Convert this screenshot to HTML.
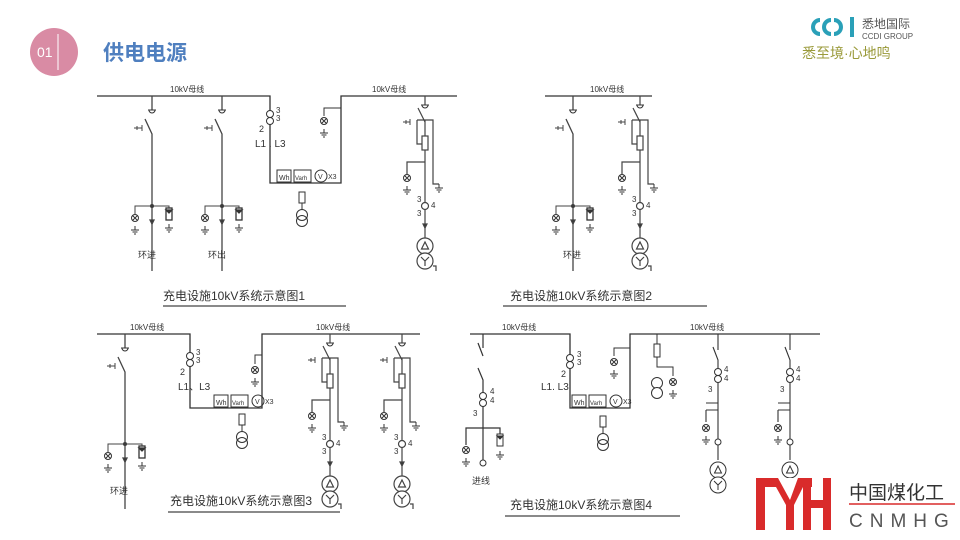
<!DOCTYPE html>
<html><head><meta charset="utf-8"><style>
html,body{margin:0;padding:0;background:#fff;}
body{width:960px;height:540px;overflow:hidden;position:relative;font-family:"Liberation Sans","Noto Sans CJK SC",sans-serif;}
svg{position:absolute;left:0;top:0}
</style></head><body>
<svg width="960" height="540" viewBox="0 0 960 540" xmlns="http://www.w3.org/2000/svg" font-family="Liberation Sans, Noto Sans CJK SC, sans-serif">
<defs>
<g id="lamp" fill="none" stroke="#333" stroke-width="1"><circle r="3.5" fill="#fff"/><path d="M-2.5,-2.5L2.5,2.5M2.5,-2.5L-2.5,2.5"/></g>
<g id="gnd" stroke="#333" stroke-width="1"><path d="M0,-4V0M-4,0H4M-2.5,2H2.5M-1,4H1"/></g>
<g id="tgnd" stroke="#333" stroke-width="1" fill="none"><path d="M-4,0H4"/><path d="M-3,0A3,3 0 0 0 3,0"/></g>
<g id="arr" stroke="#333" fill="#fff"><rect x="-3" y="0" width="6" height="12"/><path d="M-3,2H3L0,5Z" fill="#333"/></g>
<g id="feedA" stroke="#444" stroke-width="1.3" fill="none">
 <path d="M0,0V14"/><use href="#tgnd" y="14"/>
 <path d="M-7,23L0,38V175" stroke-width="1.3"/>
 <path d="M-18,32H-10M-10,29V35M-15,30V34" stroke-width="1"/>
 <path d="M-17,118V110H17V118" stroke-width="1"/>
 <circle cx="0" cy="110" r="1.5" fill="#333"/>
 <use href="#lamp" x="-17" y="122"/><use href="#gnd" x="-17" y="134"/>
 <use href="#arr" x="17" y="112"/><use href="#gnd" x="17" y="132"/>
 <path d="M-2,124L0,128L2,124Z" fill="#333"/>
</g>
<g id="feedB" stroke="#444" stroke-width="1.2" fill="none">
 <path d="M0,0V9"/><use href="#tgnd" y="9"/>
 <path d="M-7,12L0,26"/>
 <path d="M-22,26H-15M-15,23V29M-19,24V28" stroke-width="1"/>
 <path d="M-8,24H8V76M-8,24V48H0"/>
 <rect x="-3" y="40" width="6" height="14" fill="#fff"/>
 <path d="M0,24V40M0,54V150"/>
 <path d="M-18,78V66H0"/><use href="#lamp" x="-18" y="82"/><use href="#gnd" x="-18" y="94"/>
 <path d="M8,76V88H14"/><use href="#gnd" x="14" y="92"/>
 <circle cx="0" cy="110" r="3.5" fill="#fff"/>
 <text x="-8" y="106" font-size="8" fill="#333" stroke="none">3</text><text x="-8" y="120" font-size="8" fill="#333" stroke="none">3</text><text x="6" y="112" font-size="8" fill="#333" stroke="none">4</text>
 <path d="M-2,128L0,132L2,128Z" fill="#333"/>
 <circle cx="0" cy="150" r="8" fill="#fff"/><path d="M-3.5,153L0,146L3.5,153Z"/>
 <circle cx="0" cy="165" r="8" fill="#fff"/><path d="M0,165V170M0,165L-4,161M0,165L4,161M8,170H11V175"/>
</g>
<g id="meters" stroke="#333" fill="none" stroke-width="1">
 <rect x="0" y="-7" width="14" height="12"/><text x="2" y="3" font-size="7" fill="#333" stroke="none">Wh</text>
 <rect x="17" y="-7" width="17" height="12"/><text x="18" y="3" font-size="6" fill="#333" stroke="none">Varh</text>
 <circle cx="44" cy="-1" r="6"/><text x="41" y="2" font-size="7" fill="#333" stroke="none">V</text>
 <text x="51" y="2" font-size="7" fill="#333" stroke="none">X3</text>
</g>
<g id="ct" stroke="#333" fill="#fff" stroke-width="1">
 <circle cx="0" cy="0" r="3.5"/><circle cx="0" cy="7" r="3.5"/>
</g>
<g id="ptx" stroke="#333" fill="none" stroke-width="1">
 <rect x="-3" y="0" width="6" height="11" fill="#fff"/><path d="M0,11V18"/>
 <circle cx="0" cy="23" r="5.5" fill="#fff"/><circle cx="0" cy="29" r="5.5"/>
</g>
</defs>

<!-- header -->
<circle cx="54" cy="52" r="24" fill="#d98ba4"/>
<line x1="58" y1="34" x2="58" y2="70" stroke="#fff" stroke-width="1"/>
<text x="37" y="57" font-size="14" fill="#fff">01</text>
<text x="103" y="60" font-size="21" font-weight="bold" fill="#4f7fbf">供电电源</text>
<g fill="#2aa0b8"><path d="M820,18a9,9 0 0 0 0,18v-4a5,5 0 0 1 0,-10z"/><path d="M831,18a9,9 0 0 0 0,18v-4a5,5 0 0 1 0,-10z"/><path d="M834,18a9,9 0 0 1 0,18v-4a5,5 0 0 0 0,-10z"/><rect x="850" y="17" width="4" height="20"/></g>
<text x="862" y="28" font-size="12" fill="#555">悉地国际</text>
<text x="862" y="39" font-size="8" fill="#555">CCDI GROUP</text>
<text x="802" y="58" font-size="14" fill="#9a9a3a">悉至境·心地鸣</text>

<!-- Diagram 1 -->
<g stroke="#333" stroke-width="1.3" fill="none">
<path d="M97,96H270V183H341V96H457"/>
</g>
<text x="170" y="92" font-size="8" fill="#333">10kV母线</text>
<text x="372" y="92" font-size="8" fill="#333">10kV母线</text>
<use href="#feedA" x="152" y="96"/><use href="#feedA" x="222" y="96"/>
<text x="138" y="258" font-size="9" fill="#333">环进</text><text x="208" y="258" font-size="9" fill="#333">环出</text>
<use href="#ct" x="270" y="114"/>
<text x="276" y="113" font-size="8" fill="#333">3</text><text x="276" y="121" font-size="8" fill="#333">3</text><text x="259" y="132" font-size="9" fill="#333">2</text>
<text x="255" y="147" font-size="10" fill="#333">L1 . L3</text>
<use href="#meters" x="277" y="177"/>
<use href="#ptx" x="302" y="192"/>
<path d="M341,108H324V116" stroke="#333" fill="none"/><use href="#lamp" x="324" y="121"/><use href="#gnd" x="324" y="133"/>
<use href="#feedB" x="425" y="96"/>
<text x="163" y="300" font-size="12" fill="#333">充电设施10kV系统示意图1</text>
<line x1="163" y1="306" x2="346" y2="306" stroke="#444" stroke-width="1.3"/>

<!-- Diagram 2 -->
<path d="M545,96H652" stroke="#333" stroke-width="1.3"/>
<text x="590" y="92" font-size="8" fill="#333">10kV母线</text>
<use href="#feedA" x="573" y="96"/>
<text x="563" y="258" font-size="9" fill="#333">环进</text>
<use href="#feedB" x="640" y="96"/>
<text x="510" y="300" font-size="12" fill="#333">充电设施10kV系统示意图2</text>
<line x1="503" y1="306" x2="707" y2="306" stroke="#444" stroke-width="1.3"/>

<!-- Diagram 3 -->
<path d="M97,334H190V408H262V334H420" stroke="#333" stroke-width="1.3" fill="none"/>
<text x="130" y="330" font-size="8" fill="#333">10kV母线</text>
<text x="316" y="330" font-size="8" fill="#333">10kV母线</text>
<use href="#feedA" x="125" y="334"/>
<text x="110" y="494" font-size="9" fill="#333">环进</text>
<use href="#ct" x="190" y="356"/>
<text x="196" y="355" font-size="8" fill="#333">3</text><text x="196" y="363" font-size="8" fill="#333">3</text><text x="180" y="375" font-size="9" fill="#333">2</text>
<text x="178" y="390" font-size="10" fill="#333">L1、L3</text>
<use href="#meters" x="214" y="402"/>
<use href="#ptx" x="242" y="414"/>
<path d="M262,355H255V364" stroke="#333" fill="none"/><use href="#lamp" x="255" y="370"/><use href="#gnd" x="255" y="382"/>
<use href="#feedB" x="330" y="334"/><use href="#feedB" x="402" y="334"/>
<text x="170" y="505" font-size="12" fill="#333">充电设施10kV系统示意图3</text>
<line x1="168" y1="512" x2="340" y2="512" stroke="#444" stroke-width="1.3"/>

<!-- Diagram 4 -->
<path d="M470,334H570V408H630V334H820" stroke="#333" stroke-width="1.3" fill="none"/>
<text x="502" y="330" font-size="8" fill="#333">10kV母线</text>
<text x="690" y="330" font-size="8" fill="#333">10kV母线</text>
<g stroke="#333" fill="none" stroke-width="1.2">
<path d="M483,334V348M478,343L483,356M478,368L483,380V460"/>
<path d="M466,445V428H500V434"/>
</g>
<use href="#ct" x="483" y="396"/>
<text x="490" y="394" font-size="8" fill="#333">4</text><text x="490" y="403" font-size="8" fill="#333">4</text><text x="473" y="416" font-size="8" fill="#333">3</text>
<use href="#lamp" x="466" y="450"/><use href="#gnd" x="466" y="462"/>
<use href="#arr" x="500" y="434"/><use href="#gnd" x="500" y="455"/>
<circle cx="483" cy="463" r="3" fill="#fff" stroke="#333"/>
<text x="472" y="484" font-size="9" fill="#333">进线</text>
<use href="#ct" x="570" y="358"/>
<text x="577" y="357" font-size="8" fill="#333">3</text><text x="577" y="365" font-size="8" fill="#333">3</text><text x="561" y="377" font-size="9" fill="#333">2</text>
<text x="541" y="390" font-size="10" fill="#333">L1. L3</text>
<use href="#meters" x="572" y="402"/>
<use href="#ptx" x="603" y="416"/>
<path d="M630,348H614V356" stroke="#333" fill="none"/><use href="#lamp" x="614" y="362"/><use href="#gnd" x="614" y="374"/>
<g stroke="#333" fill="none" stroke-width="1"><path d="M657,334V344M657,357V367H673V376"/><rect x="654" y="344" width="6" height="13" fill="#fff"/>
<circle cx="657" cy="383" r="5.5" fill="#fff"/><circle cx="657" cy="393" r="5.5" fill="#fff"/></g>
<use href="#lamp" x="673" y="382"/><use href="#gnd" x="673" y="394"/>
<g id="f4" stroke="#333" fill="none" stroke-width="1.1">
<path d="M718,334V350M713,347L718,360V400M706,403H718M706,410H718M706,410V422M718,400V460"/>
</g>
<use href="#ct" x="718" y="372"/><use href="#lamp" x="706" y="428"/><use href="#gnd" x="706" y="440"/>
<text x="724" y="372" font-size="8" fill="#333">4</text><text x="724" y="381" font-size="8" fill="#333">4</text><text x="708" y="392" font-size="8" fill="#333">3</text>
<circle cx="718" cy="442" r="3" fill="#fff" stroke="#333"/>
<circle cx="718" cy="470" r="8" fill="#fff" stroke="#333"/><path d="M714.5,473L718,466L721.5,473Z" fill="none" stroke="#333"/>
<circle cx="718" cy="485" r="8" fill="#fff" stroke="#333"/><path d="M718,485V490M718,485L714,481M718,485L722,481" stroke="#333"/>
<g stroke="#333" fill="none" stroke-width="1.1">
<path d="M790,334V350M785,347L790,360V400M778,403H790M778,410H790M778,410V422M790,400V460"/>
</g>
<use href="#ct" x="790" y="372"/><use href="#lamp" x="778" y="428"/><use href="#gnd" x="778" y="440"/>
<text x="796" y="372" font-size="8" fill="#333">4</text><text x="796" y="381" font-size="8" fill="#333">4</text><text x="780" y="392" font-size="8" fill="#333">3</text>
<circle cx="790" cy="442" r="3" fill="#fff" stroke="#333"/>
<circle cx="790" cy="470" r="8" fill="#fff" stroke="#333"/><path d="M786.5,473L790,466L793.5,473Z" fill="none" stroke="#333"/>
<text x="510" y="509" font-size="12" fill="#333">充电设施10kV系统示意图4</text>
<line x1="505" y1="516" x2="680" y2="516" stroke="#444" stroke-width="1.3"/>

<!-- CNMHG logo -->
<rect x="752" y="478" width="80" height="52" fill="#fff"/>
<g fill="#d92b2b">
<rect x="756" y="478" width="9" height="52"/>
<path d="M756,478H778L790,500L798,478H812V487H803L794,505V530H786V505L776,487H765Z"/>
<rect x="803" y="478" width="8" height="52"/>
<rect x="803" y="500" width="28" height="8"/>
<rect x="823" y="478" width="8" height="52"/>
</g>
<text x="849" y="499" font-size="19" fill="#333">中国煤化工</text>
<line x1="849" y1="504" x2="955" y2="504" stroke="#d92b2b" stroke-width="1.5"/>
<text x="849" y="527" font-size="19" fill="#555" letter-spacing="7">CNMHG</text>
</svg>
</body></html>
